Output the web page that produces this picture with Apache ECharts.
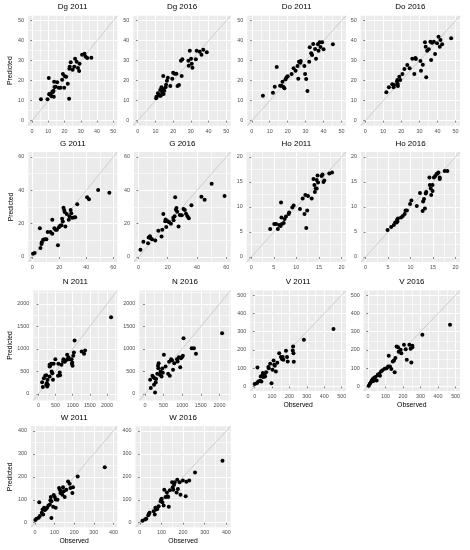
<!DOCTYPE html>
<html><head><meta charset="utf-8">
<script src="https://cdn.jsdelivr.net/npm/echarts@6/dist/echarts.min.js"></script>
<style>html,body{margin:0;padding:0;background:#fff}#c{width:470px;height:550px}</style>
</head><body><div id="c"></div>
<script>
// ---- panel categories ----
const panelTitles = ['Dg 2011','Dg 2016','Do 2011','Do 2016','G 2011','G 2016','Ho 2011','Ho 2016','N 2011','N 2016','V 2011','V 2016','W 2011','W 2016'];
const panelVar = [0,0,1,1,2,2,3,3,4,4,5,5,6,6];
// ---- per-variable axis limits and tick labels ----
const varNames = ['Dg','Do','G','Ho','N','V','W'];
const varMin = [-2.5,-2.5,-3,-1,-150,-25,-20];
const varMax = [52.5,52.5,63,21,2300,525,420];
const gridStep = [2.5,2.5,1,0.5,50,25,10];   // fine step used only to place grid lines
const tickDg = [0,10,20,30,40,50];
const tickDo = [0,10,20,30,40,50];
const tickG  = [0,20,40,60];
const tickHo = [0,5,10,15,20];
const tickN  = [0,500,1000,1500,2000];
const tickV  = [0,100,200,300,400,500];
const tickW  = [0,100,200,300,400];
const varTicks = [tickDg,tickDo,tickG,tickHo,tickN,tickV,tickW];

// ---- series values: [observed, predicted] ----
const dg2011 = [[5.5,10.7],[9.5,10.7],[10.3,21.3],[10.5,13.2],[11.5,12.8],[12,12.2],[12.8,14.3],[13.2,15],[13.6,19.5],[13.8,16.8],[14.5,17],[13.4,12],[15.5,19.2],[16.5,16.5],[17.5,16.5],[18.5,20.5],[19,23.3],[19.8,16.5],[20.2,22.2],[21,22],[22,18.5],[22.8,11],[23,26],[23.2,27],[23.8,29.2],[25,25.5],[26,27],[26.5,31],[27.5,29.5],[28.3,26.3],[29,24.8],[29.3,28.5],[30.8,33],[32.3,33.5],[33,32],[34,31.3],[36.5,31.5],[12.5,14.5],[11,13.5]];
const dg2016 = [[10.4,11.2],[10.6,12],[11.4,13.7],[12.3,12.5],[12.7,15.3],[13.4,16.7],[13.8,14],[14.2,15.7],[14.6,13.3],[15,15],[14.4,22.3],[15.7,16.7],[16,18],[17,21.5],[18.4,17.3],[19.5,21],[20,24],[20.8,23.5],[21.8,23.5],[22.5,17.3],[23.3,17.8],[24.4,30],[25.2,30.7],[24.8,22.3],[28.6,30],[28.8,27.5],[29.4,35],[30.1,31],[30.5,28.5],[30.9,26.5],[32.8,30.7],[33.3,35],[35,34.5],[36,33],[37,35.5],[39,34.2],[12,13],[13,12.5],[16.5,20]];
const do2011 = [[6.2,12.5],[11.8,14],[12.8,17],[13.9,26.8],[15.8,17.5],[16.5,17.5],[17.1,19.5],[17.7,16.8],[18.2,16.2],[18.8,20.7],[19.4,21.7],[20,22.2],[22.2,23.3],[23.3,26.2],[24.4,25],[25.5,27.3],[25.9,21],[26.3,29.5],[27,29],[29.3,27.3],[29.7,23.3],[30.3,20.8],[31,14.8],[32,29.5],[32.3,36.7],[33.1,33.7],[33.6,32.8],[34.2,38.3],[35.3,35.8],[35.8,31],[36.8,38.2],[37.2,35],[37.8,39.2],[38.3,36.8],[39.2,39.2],[40,35.7],[45.2,38.2],[27.3,29.8]];
const do2016 = [[11.7,14.2],[13.1,16.7],[15,18.2],[15.7,16.7],[17.6,19.5],[17.8,20.3],[18,18.3],[18.1,17.3],[18.9,22],[19.4,20.3],[20.6,23.3],[21.7,25.8],[23.3,27.8],[24.6,26.2],[26.1,31],[27.2,23.3],[27.8,31.3],[28.1,30.8],[30.6,29.8],[30.9,25],[31.9,28],[33.1,39.2],[33.8,21.7],[33.5,37],[34.3,35],[35.2,35.7],[36.1,39.5],[36.5,30.3],[37,39],[38,39.5],[38.7,33.3],[39.8,38.7],[40.6,42],[41.3,37],[41.7,40.3],[42.6,38.2],[47.6,41.2],[16,17.8]];
const g2011 = [[0.5,2],[1.7,2.4],[5.6,17.3],[6,5.4],[6.8,7.8],[7,8.8],[8,10.3],[9.2,10.7],[10.4,10.7],[11.4,15],[13.4,15],[14.8,22.3],[14.8,14],[16.3,17.3],[17.2,16.3],[18.2,16.3],[19,7],[19.7,17.9],[20.6,18.7],[21.6,19.1],[22.1,23],[22.6,21.3],[23.1,29.5],[23.6,28.2],[24.5,18.3],[25.5,25.8],[27,22.3],[27.5,24.5],[28.4,28.2],[28.9,26.2],[29.4,23.5],[30.8,23.7],[31.8,23.9],[33.3,31.6],[40.6,35.8],[42,34.6],[48.8,40.2],[57.1,38.6],[24,27]];
const g2016 = [[1.4,4.4],[3.4,9.1],[6.6,8.3],[7,11.7],[7.9,12.4],[8.4,11.3],[9.3,10.7],[11.5,9.9],[13.6,15.8],[15.8,12.3],[16.3,16.3],[17,25.8],[18.3,21.5],[18.6,22.5],[19,18],[20.1,21.5],[21,20.9],[22.2,19.9],[23.8,23.5],[24.7,24.5],[25.1,35.8],[25.6,28.3],[26,29.4],[26.5,27.2],[27.4,18.3],[28.3,25.2],[29.6,25],[30.8,28.8],[31.7,28.2],[32.5,26],[33.5,24.5],[34.4,23.3],[36.2,31],[43,36.2],[45.2,34.4],[50,44],[58.8,36.6],[24,22]];
const ho2011 = [[4.2,5.6],[5.1,6.6],[5.5,6.6],[5.9,5.6],[6.2,6.4],[6.5,6.2],[6.6,10.9],[6.7,7.9],[6.8,6.6],[7.2,6.8],[7.4,7.6],[7.7,8.1],[8.3,8.6],[8.4,8.9],[9.1,9.9],[9.4,10.3],[10.8,9.6],[11.4,11.7],[11.8,8.6],[12,12.4],[12.2,5.8],[12.4,9.3],[12.6,12.2],[13.4,11.7],[13.8,15.6],[14,14.4],[14.1,13],[14.3,13.7],[14.5,13.7],[14.5,15.4],[14.7,16.3],[14.8,14.9],[15.6,16.2],[15.8,16.5],[16,15],[16.2,15.3],[17.3,16.7],[17.9,16.9]];
const ho2016 = [[4.9,5.4],[5.7,6],[6.3,6.4],[6.6,6.9],[6.9,6.9],[7,7.4],[7.2,7.7],[7.9,7.9],[8.3,8.2],[8.7,8.6],[8.9,9.3],[9.2,9.3],[9.9,10.6],[10.2,11.3],[11.4,10.2],[12.1,12.8],[12.7,9.2],[12.8,11.1],[13,11.6],[13.2,9.7],[13.4,12.7],[13.5,13],[14.2,15.9],[14.3,14.4],[14.5,13.7],[14.6,12.4],[14.9,14.4],[14.9,13.2],[15.2,15.9],[15.5,16.2],[15.8,16.6],[16,16.7],[16.2,16.9],[16.5,15.9],[16.5,15.6],[17.6,17.2],[18.2,17.2],[7.1,7.1]];
const n2011 = [[108,259],[128,148],[158,348],[197,400],[227,415],[227,200],[246,237],[256,160],[266,311],[276,200],[325,607],[325,644],[325,385],[345,622],[374,667],[384,496],[404,459],[424,311],[443,667],[493,770],[571,400],[581,667],[620,474],[630,415],[670,644],[719,719],[729,770],[768,711],[798,741],[837,867],[857,770],[877,815],[897,770],[965,770],[975,667],[985,696],[995,622],[1015,844],[1034,919],[1054,1185],[1261,941],[1330,889],[1360,963],[2118,1704]];
const n2016 = [[140,311],[158,126],[202,400],[228,370],[246,200],[263,348],[272,30],[290,252],[333,444],[351,622],[360,570],[368,681],[404,422],[421,496],[447,385],[465,563],[509,867],[553,607],[623,444],[649,711],[667,400],[702,770],[728,741],[754,533],[789,681],[860,770],[877,719],[912,815],[947,593],[965,793],[991,815],[1018,844],[1035,1237],[1254,1015],[1316,1015],[1368,889],[2070,1348],[300,330],[480,470]];
const v2011 = [[0,13],[12,18],[16,104],[21,27],[31,31],[35,55],[39,27],[43,58],[47,73],[50,51],[54,62],[58,69],[66,77],[79,106],[81,100],[89,124],[97,18],[103,91],[109,142],[112,118],[116,113],[122,82],[141,182],[151,161],[157,150],[161,161],[165,146],[180,195],[186,161],[190,137],[219,197],[221,219],[223,182],[225,135],[283,255],[453,314],[130,130],[60,55]];
const v2016 = [[4,4],[10,15],[15,22],[21,33],[27,40],[34,46],[42,51],[49,33],[57,64],[63,69],[68,58],[74,82],[82,88],[95,97],[106,99],[114,109],[118,168],[125,109],[133,95],[141,137],[148,142],[152,77],[156,155],[163,219],[171,215],[175,190],[186,201],[190,182],[205,228],[215,204],[221,146],[236,228],[243,206],[247,131],[253,215],[253,222],[310,283],[468,338],[30,30],[55,62]];
const w2011 = [[2,12],[8,17],[19,22],[22,89],[25,29],[35,43],[39,58],[42,36],[47,65],[51,55],[56,60],[62,65],[69,75],[76,79],[79,98],[81,112],[84,94],[84,20],[93,69],[96,121],[101,112],[106,101],[106,65],[123,151],[127,144],[130,129],[135,137],[143,155],[147,137],[152,112],[160,144],[169,180],[177,170],[181,151],[191,129],[194,155],[218,201],[356,242],[115,100],[140,122]];
const w2016 = [[12,8],[24,14],[30,17],[39,32],[42,39],[45,43],[64,50],[69,36],[72,65],[75,58],[81,60],[87,72],[96,94],[99,101],[101,104],[104,89],[110,75],[113,144],[119,112],[125,132],[128,115],[131,112],[134,69],[139,141],[149,176],[152,155],[155,144],[158,165],[161,176],[170,132],[173,187],[176,147],[184,176],[188,122],[199,184],[212,115],[215,178],[228,184],[255,219],[382,270]];
const panelData = [dg2011,dg2016,do2011,do2016,g2011,g2016,ho2011,ho2016,n2011,n2016,v2011,v2016,w2011,w2016];

// ---- layout (pixels) ----
const panelLeft   = [28,133.3,247.3,360.7, 28.3,134,246.7,361, 33.3,139.3,250.3,363.7, 31,135.5];
const panelRight  = [117.3,230.7,346,460, 117.3,230.7,346,460, 117.3,230.7,346,460, 117.3,230.7];
const panelTop    = [15.7,15.7,15.7,15.7, 152,152,152,152, 290.5,290.5,290.5,290.5, 426.3,426.3];
const panelHeight = [110,110,110,110, 110,110,110,110, 110,110,100.5,100.5, 101,101];
const showPredicted = [1,0,0,0, 1,0,0,0, 1,0,0,0, 1,0];
const showObserved  = [0,0,0,0, 0,0,0,0, 0,0,1,1, 1,1];

const FONT = '"Liberation Sans", Arial, sans-serif';
const CLEAR = 'rgba(0,0,0,0)';
const grids = [], xAxes = [], yAxes = [], series = [], graphics = [];

// colour cycle for split lines: white where the fine tick hits the wanted offset, transparent elsewhere
function lineCycle(lo, q, M, offset) {
  const n = Math.round(M / q), out = [];
  for (let k = 0; k < n; k++) {
    const v = lo + k * q;
    const r = ((v % M) + M) % M;
    out.push(Math.abs(r - offset) < 1e-6 || Math.abs(r - offset - M) < 1e-6 ? '#FFFFFF' : CLEAR);
  }
  return out;
}

panelTitles.forEach((t, i) => {
  const v = panelVar[i];
  const lo = varMin[v], hi = varMax[v], q = gridStep[v];
  const major = varTicks[v];
  const M = major[1] - major[0];
  const w = panelRight[i] - panelLeft[i];
  grids.push({left: panelLeft[i], top: panelTop[i], width: w, height: panelHeight[i],
    show: true, backgroundColor: '#EBEBEB', borderWidth: 0, containLabel: false});
  const labelAxis = (pos, margin) => ({
    type: 'value', gridIndex: i, min: lo, max: hi, position: pos,
    axisLine: {show: false},
    axisTick: {show: true, length: 2, lineStyle: {color: '#333333', width: 0.6}, customValues: major},
    axisLabel: {show: true, customValues: major, fontSize: 5.4, color: '#4D4D4D', margin: margin,
      fontFamily: FONT, formatter: (val) => String(val)},
    splitLine: {show: false}
  });
  const gridAxis = (pos, offset, width) => ({
    type: 'value', gridIndex: i, min: lo, max: hi, interval: q, position: pos,
    axisLine: {show: false}, axisTick: {show: false}, axisLabel: {show: false},
    splitLine: {show: true, lineStyle: {color: lineCycle(lo, q, M, offset), width: width}}
  });
  // x axes: [minor grid, major grid, labels]
  xAxes.push(gridAxis('bottom', M / 2, 0.6));
  xAxes.push(gridAxis('bottom', 0, 1.1));
  xAxes.push(Object.assign(labelAxis('bottom', 3), {
    name: showObserved[i] ? 'Observed' : '', nameLocation: 'middle', nameGap: 10.5,
    nameTextStyle: {fontSize: 6.8, color: '#000', fontFamily: FONT}
  }));
  yAxes.push(gridAxis('left', M / 2, 0.6));
  yAxes.push(gridAxis('left', 0, 1.1));
  yAxes.push(Object.assign(labelAxis('left', 4), {
    name: showPredicted[i] ? 'Predicted' : '', nameLocation: 'middle', nameGap: panelLeft[i] - 17.5,
    nameRotate: 90,
    nameTextStyle: {fontSize: 6.8, color: '#000', fontFamily: FONT}
  }));
  const ax = 3 * i + 2;
  series.push({
    type: 'line', xAxisIndex: ax, yAxisIndex: ax,
    data: [[lo, lo], [hi, hi]], symbol: 'none', silent: true, z: 2,
    lineStyle: {color: '#BEBEBE', width: 0.7}
  });
  series.push({
    type: 'scatter', name: t, xAxisIndex: ax, yAxisIndex: ax,
    data: panelData[i], symbolSize: 4, z: 3,
    itemStyle: {color: '#000000', opacity: 1}
  });
  graphics.push({
    type: 'text', x: panelLeft[i] + w / 2, y: panelTop[i] - 8.5,
    style: {text: t, textAlign: 'center', textVerticalAlign: 'middle',
      font: '8px ' + FONT, fill: '#000'}
  });
});

const chart = echarts.init(document.getElementById('c'), null, {renderer: 'canvas'});
chart.setOption({
  animation: false,
  backgroundColor: '#FFFFFF',
  grid: grids, xAxis: xAxes, yAxis: yAxes, series: series,
  graphic: graphics
});
</script></body></html>
